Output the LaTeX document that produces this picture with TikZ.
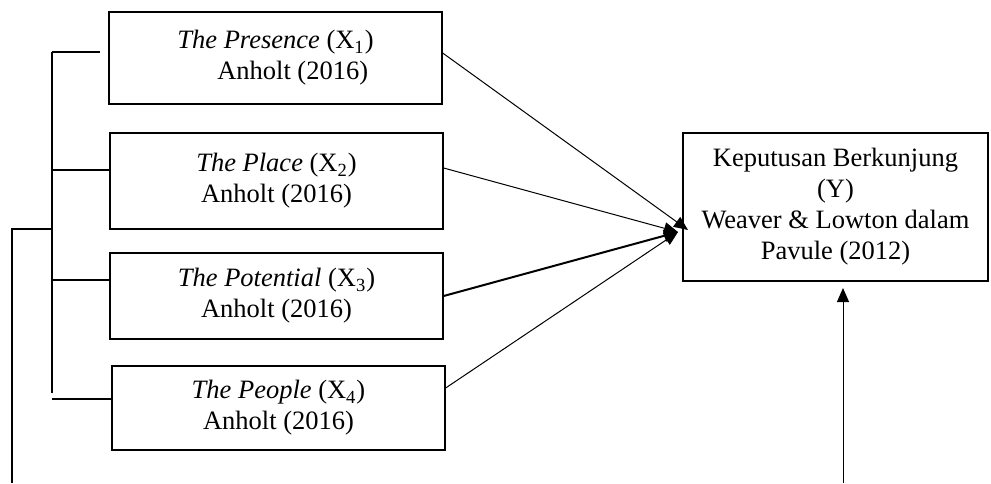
\documentclass[tikz,border=0pt]{standalone}
\usepackage{fontspec}
\setmainfont{Liberation Serif}
\usetikzlibrary{arrows.meta}

\begin{document}
\begin{tikzpicture}[x=0.5pt, y=-0.5pt,
    font=\fontsize{13.25}{15.5}\selectfont,
    var/.style={draw, line width=0.65pt, align=center, inner sep=0, minimum width=166.5pt},
    link/.style={line width=0.5pt, -{Triangle[length=7pt, width=6pt]}},
    brace/.style={line width=0.65pt}
  ]
    \useasboundingbox (0,0) rectangle (991,483);
    % variabel bebas
    \node (presence) [var, minimum height=46pt] at (275.5,58)
      {\textit{The Presence} (X\textsubscript{1})\\ \hspace*{1.3em}Anholt (2016)};
    \node (place) [var, minimum height=48pt] at (276.5,181)
      {\textit{The Place} (X\textsubscript{2})\\ Anholt (2016)};
    \node (potential) [var, minimum height=43pt] at (276.5,296)
      {\textit{The Potential} (X\textsubscript{3})\\ Anholt (2016)};
    \node (people) [var, minimum height=42pt] at (278.5,408)
      {\textit{The People} (X\textsubscript{4})\\ Anholt (2016)};
    % variabel terikat
    \node (keputusan) [var, minimum width=152.5pt, minimum height=74pt] at (835.5,207)
      {Keputusan Berkunjung\\ (Y)\\ Weaver \& Lowton dalam\\ Pavule (2012)};

    \coordinate (tip) at (678,232);
    \coordinate (tipa) at (688,230);
    \draw[link] (presence.east |- 0,53) -- (tipa);
    \draw[link] (place.east |- 0,168) -- (tip);
    \draw[link, line width=1pt] (potential.east |- 0,296) -- (tip);
    \draw[link] (people.east |- 0,388) -- (tip);

    % kurung kiri
    \coordinate (btop) at (52,52);
    \coordinate (bbot) at (52,393);
    \draw[brace] (btop) -- (bbot);
    \draw[brace] (btop) -- (100,52);
    \draw[brace] (52,170) -- (place.west |- 0,170);
    \draw[brace] (52,280) -- (potential.west |- 0,280);
    \draw[brace] (52,399) -- (people.west |- 0,399);
    \coordinate (outer) at (12,229);
    \draw[brace] (btop |- outer) -- (outer) -- (12,483);

    \coordinate (ybot) at (843,483);
    \draw[link] (ybot) -- (843,288);
\end{tikzpicture}
\end{document}
